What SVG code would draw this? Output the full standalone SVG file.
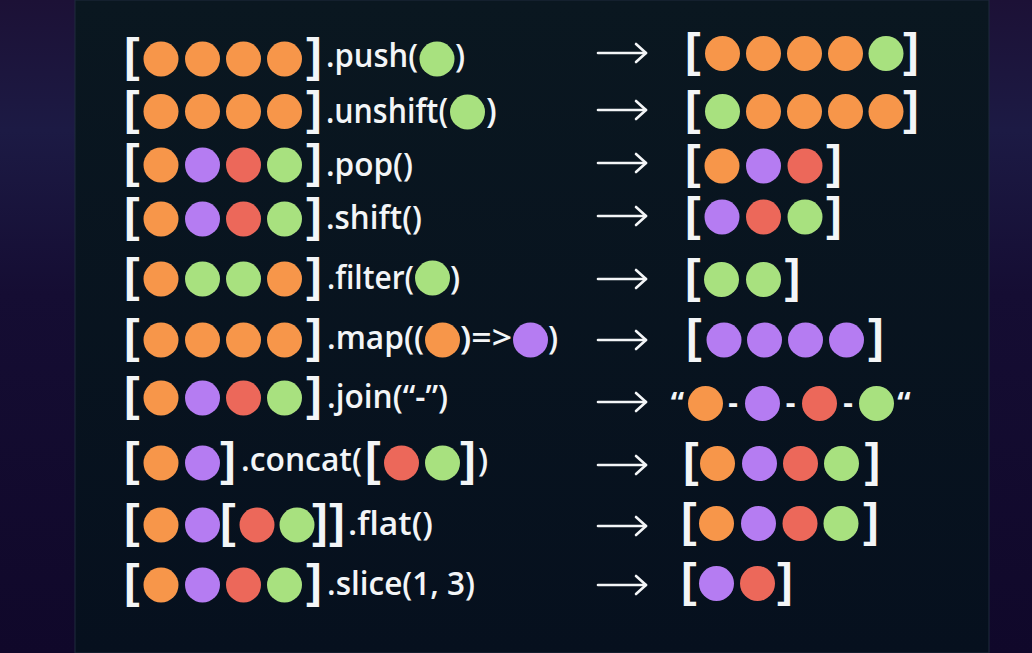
<svg xmlns="http://www.w3.org/2000/svg" width="1032" height="653" viewBox="0 0 1032 653">
<defs>
<linearGradient id="bgL" x1="0" y1="0" x2="0" y2="1">
<stop offset="0" stop-color="#1c1136"/>
<stop offset="0.2" stop-color="#1c1a44"/>
<stop offset="0.45" stop-color="#150d33"/>
<stop offset="1" stop-color="#10082a"/>
</linearGradient>
<linearGradient id="panel" x1="0" y1="0" x2="0" y2="1">
<stop offset="0" stop-color="#0a1720"/>
<stop offset="1" stop-color="#06101e"/>
</linearGradient>
<marker id="ah" markerUnits="userSpaceOnUse" markerWidth="16" markerHeight="22" refX="13" refY="11" orient="auto">
<path d="M3,2 L13,11 L3,20" fill="none" stroke="#f3f5f7" stroke-width="2.6" stroke-linecap="round" stroke-linejoin="round"/>
</marker>
<style>
.o{fill:#F7964A}.p{fill:#B57CF2}.r{fill:#EC685A}.g{fill:#A8E17F}
.t{font-family:"Open Sans","Liberation Sans",sans-serif;font-weight:600;fill:#F3F5F7;font-size:32px}
.b{font-family:"Liberation Sans","Open Sans",sans-serif;font-weight:700;fill:#F3F5F7;font-size:46px;text-anchor:middle}
.q{font-family:"Open Sans","Liberation Sans",sans-serif;font-weight:700;fill:#F3F5F7;font-size:30px;text-anchor:middle}
.arr{stroke:#F3F5F7;stroke-width:2.6;fill:none;stroke-linecap:round;marker-end:url(#ah)}
</style>
</defs>
<rect width="1032" height="653" fill="url(#bgL)"/>
<rect x="75" y="0" width="914" height="653" fill="url(#panel)" stroke="#1e2a3c" stroke-width="1"/>

<g id="connectors">
<path class="arr" d="M598,53 H646"/>
<path class="arr" d="M598,110 H646"/>
<path class="arr" d="M598,163 H646"/>
<path class="arr" d="M598,216 H646"/>
<path class="arr" d="M598,279 H646"/>
<path class="arr" d="M598,340 H646"/>
<path class="arr" d="M598,402 H646"/>
<path class="arr" d="M598,465 H646"/>
<path class="arr" d="M598,526 H646"/>
<path class="arr" d="M598,585 H646"/>
</g>

<!-- Row 1 push -->
<g id="push-input">
<text class="b" x="132" y="71">[</text>
<circle class="o" cx="161" cy="59" r="17.5"/><circle class="o" cx="202.5" cy="59" r="17.5"/><circle class="o" cx="243.5" cy="59" r="17.5"/><circle class="o" cx="284.5" cy="59" r="17.5"/>
<text class="b" x="314" y="71">]</text>
<text class="t" x="326" y="67" textLength="92" lengthAdjust="spacingAndGlyphs">.push(</text>
<circle class="g" cx="437" cy="59" r="17.5"/>
<text class="t" x="455" y="67">)</text>
</g>
<g id="push-output">
<text class="b" x="693" y="65.5">[</text>
<circle class="o" cx="722.5" cy="53.5" r="17.5"/><circle class="o" cx="763.5" cy="53.5" r="17.5"/><circle class="o" cx="804.5" cy="53.5" r="17.5"/><circle class="o" cx="845.5" cy="53.5" r="17.5"/><circle class="g" cx="886" cy="53.5" r="17.5"/>
<text class="b" x="911" y="65.5">]</text>
</g>

<!-- Row 2 unshift -->
<g id="unshift-input">
<text class="b" x="132" y="123.5">[</text>
<circle class="o" cx="161" cy="111.5" r="17.5"/><circle class="o" cx="202.5" cy="111.5" r="17.5"/><circle class="o" cx="243.5" cy="111.5" r="17.5"/><circle class="o" cx="284.5" cy="111.5" r="17.5"/>
<text class="b" x="314" y="123.5">]</text>
<text class="t" x="326" y="123" style="font-size:34px" textLength="122" lengthAdjust="spacingAndGlyphs">.unshift(</text>
<circle class="g" cx="467.5" cy="112" r="17.5"/>
<text class="t" x="486" y="123" style="font-size:34px">)</text>
</g>
<g id="unshift-output">
<text class="b" x="693" y="123.5">[</text>
<circle class="g" cx="722.5" cy="111.5" r="17.5"/><circle class="o" cx="763.5" cy="111.5" r="17.5"/><circle class="o" cx="804.5" cy="111.5" r="17.5"/><circle class="o" cx="845.5" cy="111.5" r="17.5"/><circle class="o" cx="886" cy="111.5" r="17.5"/>
<text class="b" x="911" y="123.5">]</text>
</g>

<!-- Row 3 pop -->
<g id="pop-input">
<text class="b" x="132" y="177">[</text>
<circle class="o" cx="161" cy="165" r="17.5"/><circle class="p" cx="202.5" cy="165" r="17.5"/><circle class="r" cx="243.5" cy="165" r="17.5"/><circle class="g" cx="284.5" cy="165" r="17.5"/>
<text class="b" x="314" y="177">]</text>
<text class="t" x="326" y="176" textLength="87" lengthAdjust="spacingAndGlyphs">.pop()</text>
</g>
<g id="pop-output">
<text class="b" x="693" y="177.5">[</text>
<circle class="o" cx="722" cy="166" r="17.5"/><circle class="p" cx="763.5" cy="166" r="17.5"/><circle class="r" cx="805" cy="166" r="17.5"/>
<text class="b" x="834" y="177.5">]</text>
</g>

<!-- Row 4 shift -->
<g id="shift-input">
<text class="b" x="132" y="231">[</text>
<circle class="o" cx="161" cy="219" r="17.5"/><circle class="p" cx="202.5" cy="219" r="17.5"/><circle class="r" cx="243.5" cy="219" r="17.5"/><circle class="g" cx="284.5" cy="219" r="17.5"/>
<text class="b" x="314" y="231">]</text>
<text class="t" x="326" y="229" textLength="96" lengthAdjust="spacingAndGlyphs">.shift()</text>
</g>
<g id="shift-output">
<text class="b" x="693" y="229.5">[</text>
<circle class="p" cx="722" cy="217" r="17.5"/><circle class="r" cx="763.5" cy="217" r="17.5"/><circle class="g" cx="805" cy="217" r="17.5"/>
<text class="b" x="834" y="229.5">]</text>
</g>

<!-- Row 5 filter -->
<g id="filter-input">
<text class="b" x="132" y="291">[</text>
<circle class="o" cx="161" cy="279" r="17.5"/><circle class="g" cx="202.5" cy="279" r="17.5"/><circle class="g" cx="243.5" cy="279" r="17.5"/><circle class="o" cx="284.5" cy="279" r="17.5"/>
<text class="b" x="314" y="291">]</text>
<text class="t" x="327" y="289" textLength="87" lengthAdjust="spacingAndGlyphs">.filter(</text>
<circle class="g" cx="432.5" cy="278" r="17.5"/>
<text class="t" x="450" y="289">)</text>
</g>
<g id="filter-output">
<text class="b" x="693" y="291.5">[</text>
<circle class="g" cx="721.5" cy="279.5" r="17.5"/><circle class="g" cx="763.5" cy="279.5" r="17.5"/>
<text class="b" x="792.5" y="291.5">]</text>
</g>

<!-- Row 6 map -->
<g id="map-input">
<text class="b" x="132" y="352">[</text>
<circle class="o" cx="161" cy="340" r="17.5"/><circle class="o" cx="202.5" cy="340" r="17.5"/><circle class="o" cx="243.5" cy="340" r="17.5"/><circle class="o" cx="284.5" cy="340" r="17.5"/>
<text class="b" x="314" y="352">]</text>
<text class="t" x="327" y="349" textLength="97" lengthAdjust="spacingAndGlyphs">.map((</text>
<circle class="o" cx="442.5" cy="340" r="17.5"/>
<text class="t" x="460" y="349" textLength="52" lengthAdjust="spacingAndGlyphs">)=&gt;</text>
<circle class="p" cx="530.5" cy="340" r="17.5"/>
<text class="t" x="548" y="349">)</text>
</g>
<g id="map-output">
<text class="b" x="694" y="352">[</text>
<circle class="p" cx="724" cy="340" r="17.5"/><circle class="p" cx="764.5" cy="340" r="17.5"/><circle class="p" cx="805.5" cy="340" r="17.5"/><circle class="p" cx="846.5" cy="340" r="17.5"/>
<text class="b" x="876" y="352">]</text>
</g>

<!-- Row 7 join -->
<g id="join-input">
<text class="b" x="132" y="410">[</text>
<circle class="o" cx="161" cy="398" r="17.5"/><circle class="p" cx="202.5" cy="398" r="17.5"/><circle class="r" cx="243.5" cy="398" r="17.5"/><circle class="g" cx="284.5" cy="398" r="17.5"/>
<text class="b" x="314" y="410">]</text>
<text class="t" x="327" y="408" textLength="121" lengthAdjust="spacingAndGlyphs">.join(“-”)</text>
</g>
<g id="join-output">
<text class="q" x="677.5" y="414">“</text>
<circle class="o" cx="705.5" cy="403.5" r="17.5"/>
<text class="q" x="733" y="413">-</text>
<circle class="p" cx="762.5" cy="403.5" r="17.5"/>
<text class="q" x="790.5" y="413">-</text>
<circle class="r" cx="819.5" cy="403.5" r="17.5"/>
<text class="q" x="848" y="413">-</text>
<circle class="g" cx="876.5" cy="403.5" r="17.5"/>
<text class="q" x="904" y="414">“</text>
</g>

<!-- Row 8 concat -->
<g id="concat-input">
<text class="b" x="132" y="475">[</text>
<circle class="o" cx="161" cy="463" r="17.5"/><circle class="p" cx="202.5" cy="463" r="17.5"/>
<text class="b" x="228" y="475">]</text>
<text class="t" x="241" y="471" textLength="121" lengthAdjust="spacingAndGlyphs">.concat(</text>
<text class="b" x="373" y="475">[</text>
<circle class="r" cx="401.5" cy="463" r="17.5"/><circle class="g" cx="442.5" cy="463" r="17.5"/>
<text class="b" x="468" y="475">]</text>
<text class="t" x="478" y="471">)</text>
</g>
<g id="concat-output">
<text class="b" x="691" y="475.5">[</text>
<circle class="o" cx="717.5" cy="463.5" r="17.5"/><circle class="p" cx="759.5" cy="463.5" r="17.5"/><circle class="r" cx="800.5" cy="463.5" r="17.5"/><circle class="g" cx="841.5" cy="463.5" r="17.5"/>
<text class="b" x="872.5" y="475.5">]</text>
</g>

<!-- Row 9 flat -->
<g id="flat-input">
<text class="b" x="132" y="537">[</text>
<circle class="o" cx="161" cy="525" r="17.5"/><circle class="p" cx="202.5" cy="525" r="17.5"/>
<text class="b" x="228" y="537">[</text>
<circle class="r" cx="257" cy="525" r="17.5"/><circle class="g" cx="297" cy="525" r="17.5"/>
<text class="b" x="320" y="537">]</text>
<text class="b" x="337" y="537">]</text>
<text class="t" x="348" y="535" textLength="85" lengthAdjust="spacingAndGlyphs">.flat()</text>
</g>
<g id="flat-output">
<text class="b" x="689" y="535.5">[</text>
<circle class="o" cx="716.5" cy="523.5" r="17.5"/><circle class="p" cx="758.5" cy="523.5" r="17.5"/><circle class="r" cx="800" cy="523.5" r="17.5"/><circle class="g" cx="841" cy="523.5" r="17.5"/>
<text class="b" x="871" y="535.5">]</text>
</g>

<!-- Row 10 slice -->
<g id="slice-input">
<text class="b" x="132" y="597">[</text>
<circle class="o" cx="161" cy="585" r="17.5"/><circle class="p" cx="202.5" cy="585" r="17.5"/><circle class="r" cx="243.5" cy="585" r="17.5"/><circle class="g" cx="284.5" cy="585" r="17.5"/>
<text class="b" x="314" y="597">]</text>
<text class="t" x="327" y="595" textLength="148" lengthAdjust="spacingAndGlyphs">.slice(1, 3)</text>
</g>
<g id="slice-output">
<text class="b" x="689" y="595.5">[</text>
<circle class="p" cx="716.5" cy="583.5" r="17.5"/><circle class="r" cx="757.5" cy="583.5" r="17.5"/>
<text class="b" x="785" y="595.5">]</text>
</g>
</svg>
